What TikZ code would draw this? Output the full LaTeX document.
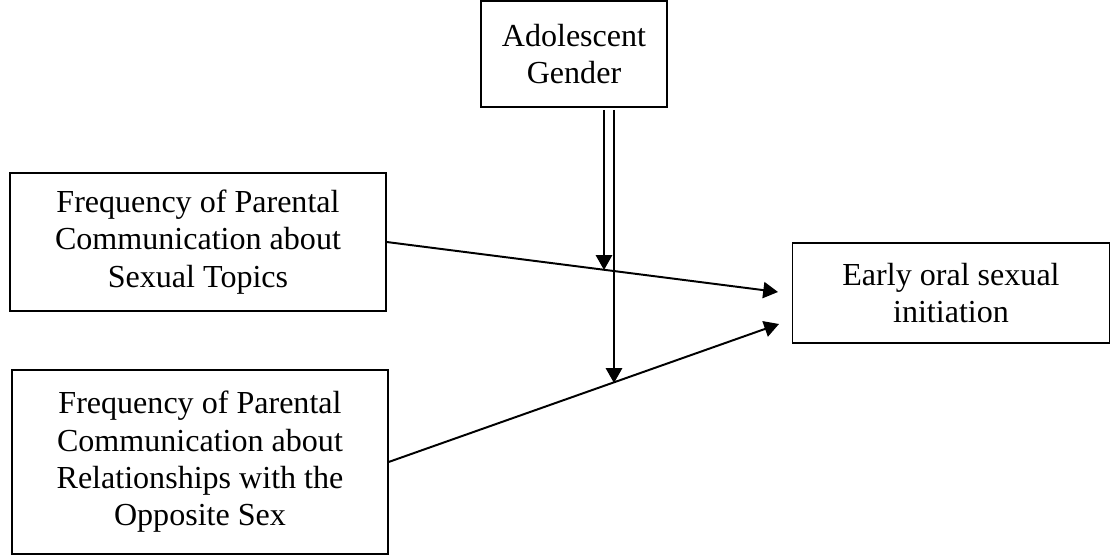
\documentclass[tikz,border=0pt]{standalone}
\usepackage{fontspec}
\setmainfont{Liberation Serif}
\usepackage{tikz}
\usetikzlibrary{arrows.meta}

\tikzset{
  varbox/.style={draw, line width=0.9pt, align=center, inner sep=0pt,
    font=\fontsize{22.8}{26.6}\selectfont},
  link/.style={line width=1.4pt, -{Triangle[length=10.5pt, width=11.5pt]}}
}

\begin{document}
\begin{tikzpicture}[x=0.025cm, y=-0.025cm]
\useasboundingbox (0,0) rectangle (1112,556);
\node[varbox, minimum width=186*0.025cm, minimum height=106*0.025cm] (gender) at (574,54) {Adolescent\\Gender};
\node[varbox, minimum width=376*0.025cm, minimum height=138*0.025cm] (topics) at (198,242) {Frequency of Parental\\Communication about\\Sexual Topics};
\node[varbox, minimum width=376*0.025cm, minimum height=184*0.025cm] (relations) at (200,462) {Frequency of Parental\\Communication about\\Relationships with the\\Opposite Sex};
\node[varbox, minimum width=317*0.025cm, minimum height=100*0.025cm] (oral) at (951,293) {Early oral sexual\\initiation};

% arrow ends short of the outcome box
\coordinate (tipA) at (778,292);
\coordinate (tipB) at (779,324);
\draw[link] (topics.east) -- (tipA);
\draw[link] (relations.east) -- (tipB);

% moderation arrows from gender
\coordinate (startA) at (604,110);
\coordinate (startB) at (614,110);
\coordinate (modA) at (604,270);
\coordinate (modB) at (614,383);
\draw[link] (startA) -- (modA);
\draw[link] (startB) -- (modB);
\end{tikzpicture}
\end{document}
